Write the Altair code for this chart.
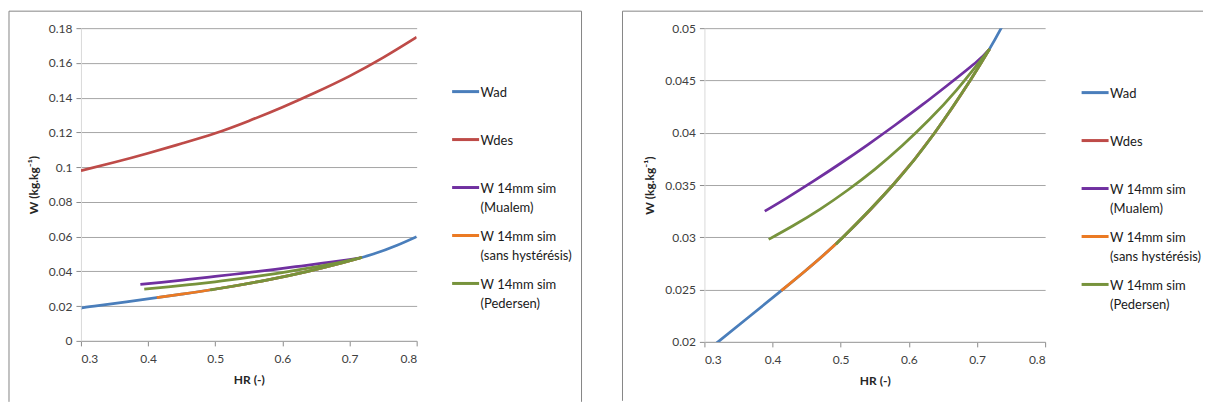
import altair as alt
import pandas as pd

# ---------------- data ----------------
series_names = [
    "Wad",
    "Wdes",
    "W 14mm sim|(Mualem)",
    "W 14mm sim|(sans hystérésis)",
    "\u00a0W 14mm sim|(Pedersen)",
]
series_colors = ["#4A7EBB", "#BE4B48", "#7030A0", "#EB7A23", "#77933C"]

hr_wad = [0.30, 0.32, 0.4129, 0.45, 0.5033, 0.5767, 0.638, 0.690, 0.7355, 0.77, 0.80]
w_wad = [0.0190, 0.0200, 0.0249, 0.0269, 0.0300, 0.0350, 0.0400, 0.0450, 0.0500, 0.0549, 0.0600]

hr_wdes = [0.30, 0.35, 0.40, 0.45, 0.50, 0.55, 0.60, 0.65, 0.70, 0.75, 0.80]
w_wdes = [0.098, 0.1028, 0.108, 0.1136, 0.1195, 0.1266, 0.1345, 0.1431, 0.1524, 0.163, 0.1748]

hr_mualem = [0.3885, 0.42, 0.46, 0.50, 0.54, 0.58, 0.62, 0.66, 0.70, 0.7184]
w_mualem = [0.0325, 0.03373, 0.03537, 0.03708, 0.03887, 0.04074, 0.04268, 0.04471, 0.04681, 0.0480]

hr_sans = [0.4129, 0.45, 0.5033, 0.5767, 0.638, 0.690, 0.7184]
w_sans = [0.0249, 0.0269, 0.0300, 0.0350, 0.0400, 0.0450, 0.0480]

hr_ped_up = [0.3943, 0.43, 0.47, 0.51, 0.55, 0.59, 0.63, 0.67, 0.7184]
w_ped_up = [0.0298, 0.0311, 0.0327, 0.0345, 0.0365, 0.03875, 0.04126, 0.04408, 0.0480]

hr_ped_lo = [0.499, 0.5033, 0.5767, 0.638, 0.690, 0.7184]
w_ped_lo = [0.02975, 0.0300, 0.0350, 0.0400, 0.0450, 0.0480]

x_ticks = [0.3, 0.4, 0.5, 0.6, 0.7, 0.8]
y_ticks_left = [0, 0.02, 0.04, 0.06, 0.08, 0.1, 0.12, 0.14, 0.16, 0.18]
y_ticks_right = [0.02, 0.025, 0.03, 0.035, 0.04, 0.045, 0.05]

# ---------------- table ----------------
rows = []
def add(name, seg, hrs, ws):
    for h, w in zip(hrs, ws):
        rows.append({"series": name, "seg": seg, "hr": h, "w": w})

add(series_names[0], "wad", hr_wad, w_wad)
add(series_names[1], "wdes", hr_wdes, w_wdes)
add(series_names[2], "mualem", hr_mualem, w_mualem)
add(series_names[3], "sans", hr_sans, w_sans)
add(series_names[4], "ped_up", hr_ped_up, w_ped_up)
add(series_names[4], "ped_lo", hr_ped_lo, w_ped_lo)
df = pd.DataFrame(rows)

frame_df = pd.DataFrame({"k": [0]})
FONT = "Lato"
FRAME = "#868686"

label_expr = "indexof(datum.label, '|') < 0 ? [datum.label, ''] : split(datum.label, '|')"


def panel(ydomain, yticks, width, height, fl, fr, ft, fb, lx, ly, right_edge):
    lines = alt.Chart(df).mark_line(clip=True, strokeWidth=2.75, interpolate="natural").encode(
        x=alt.X("hr:Q", scale=alt.Scale(domain=[0.3, 0.8], nice=False),
                axis=alt.Axis(values=x_ticks, format="~g", title="HR (-)", grid=False)),
        y=alt.Y("w:Q", scale=alt.Scale(domain=ydomain, nice=False, zero=False),
                axis=alt.Axis(values=yticks, format="~g", title="W (kg.kg\u207b\u00b9)")),
        color=alt.Color("series:N",
                        scale=alt.Scale(domain=series_names, range=series_colors),
                        legend=alt.Legend(title=None, orient="none", legendX=lx, legendY=ly,
                                          labelExpr=label_expr,
                                          symbolType="M-1,-0.11L1,-0.11",
                                          symbolSize=729, symbolStrokeWidth=3,
                                          rowPadding=7, padding=0, labelOffset=0,
                                          labelFont=FONT, labelFontSize=13,
                                          labelColor="#1a1a1a", labelLimit=300)),
        detail="seg:N",
    )
    base = alt.Chart(frame_df)
    left = base.mark_rule(color=FRAME, strokeWidth=1).encode(
        x=alt.value(fl), x2=alt.value(fl), y=alt.value(ft), y2=alt.value(fb))
    top = base.mark_rule(color=FRAME, strokeWidth=1).encode(
        x=alt.value(fl), x2=alt.value(fr), y=alt.value(ft), y2=alt.value(ft))
    layers = [left, top]
    if right_edge:
        layers.append(base.mark_rule(color=FRAME, strokeWidth=1).encode(
            x=alt.value(fr), x2=alt.value(fr), y=alt.value(ft), y2=alt.value(fb)))
    layers.append(lines)
    return alt.layer(*layers).properties(width=width, height=height)


left_panel = panel([0, 0.18], y_ticks_left, 336, 313, -72, 501, -17, 374, 370, 50, True)
right_panel = panel([0.02, 0.05], y_ticks_right, 341, 314, -82, 499, -17, 373, 376, 51, False)

chart = (
    alt.hconcat(left_panel, right_panel, spacing=39)
    .resolve_scale(color="independent")
    .properties(padding={"left": 0, "top": 2, "right": 0, "bottom": 0})
    .configure(style={"guide-label": {"lineHeight": 19}})
    .configure_view(stroke=None)
    .configure_axis(labelFont=FONT, labelFontSize=12, labelColor="#404040",
                    titleFont=FONT, titleFontSize=12, titleFontWeight="bold", titleColor="#262626",
                    tickColor="#8c8c8c", tickSize=5, gridColor="#a6a6a6", domainColor="#a6a6a6")
    .configure_axisY(domainColor="#d9d9d9", labelPadding=4, titlePadding=8)
    .configure_axisX(labelPadding=8, titlePadding=10)
)

chart.save("out.html", embed_options={"renderer": "svg", "actions": False})
